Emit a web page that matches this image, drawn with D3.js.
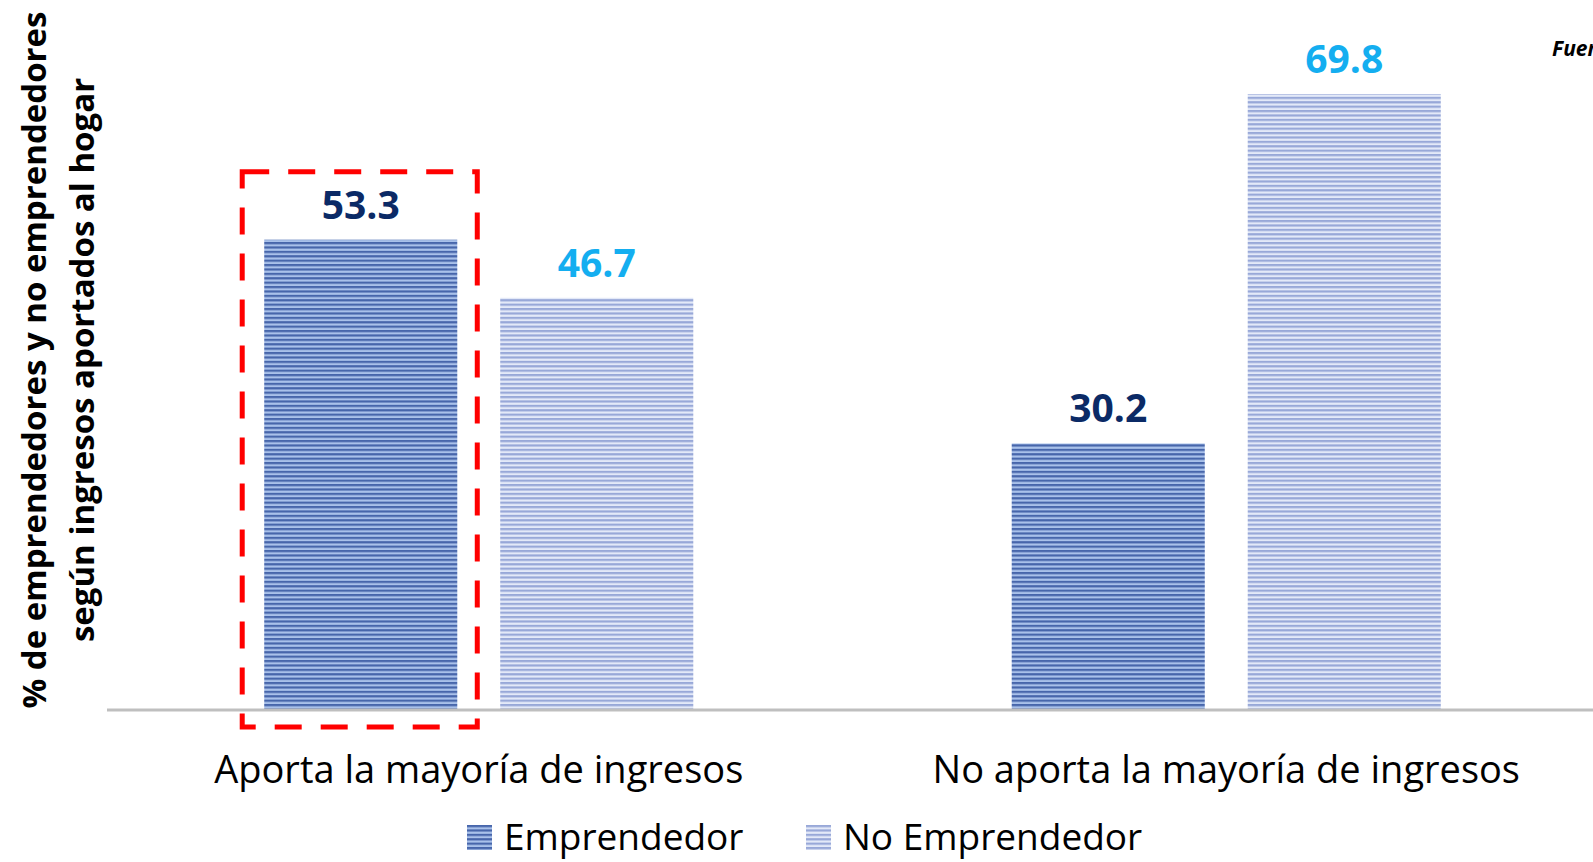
<!DOCTYPE html>
<html lang="es">
<head>
    <meta charset="UTF-8">
    <title>Emprendedores según ingresos aportados al hogar</title>
    <script src="https://d3js.org/d3.v7.min.js"></script>
    <style>
        html, body { margin: 0; padding: 0; background: #fff; overflow: hidden; }
        body { font-family: "Open Sans", Arial, sans-serif; }
    </style>
</head>
<body>
<div id="chart"></div>
<script>
    // Data
    const categories = ["Aporta la mayoría de ingresos", "No aporta la mayoría de ingresos"];
    const seriesNames = ["Emprendedor", "No Emprendedor"];
    const emprendedor = [53.3, 30.2];
    const noEmprendedor = [46.7, 69.8];
    const yLabelLines = ["% de emprendedores y no emprendedores", "según ingresos aportados al hogar"];

    const width = 1593, height = 862;
    const baseY = 710;

    const rows = categories.map((c, i) => ({
        cat: c,
        values: [
            { key: seriesNames[0], value: emprendedor[i] },
            { key: seriesNames[1], value: noEmprendedor[i] }
        ]
    }));

    const svg = d3.select("#chart").append("svg")
        .attr("width", width)
        .attr("height", height);

    // striped fills
    const defs = svg.append("defs");
    const stripes = {
        "Emprendedor": { dark: "#4766ab", light: "#a9c1ea" },
        "No Emprendedor": { dark: "#98a8d8", light: "#e3e9f8" }
    };
    seriesNames.forEach((s, i) => {
        const p = defs.append("pattern")
            .attr("id", "stripe" + i)
            .attr("patternUnits", "userSpaceOnUse")
            .attr("width", 8).attr("height", 4.4);
        p.append("rect").attr("width", 8).attr("height", 4.4).attr("fill", stripes[s].light);
        p.append("rect").attr("width", 8).attr("height", 2.2).attr("fill", stripes[s].dark);
    });

    // Scales
    const x0 = d3.scaleBand()
        .domain(categories)
        .range([105, 1600])
        .paddingInner(0.426)
        .paddingOuter(0.213);

    const x1 = d3.scaleBand()
        .domain(seriesNames)
        .range([0, x0.bandwidth()])
        .paddingInner(0.182);

    const y = d3.scaleLinear()
        .domain([0, 80])
        .range([baseY, 4]);

    const color = d3.scaleOrdinal().domain(seriesNames).range(["url(#stripe0)", "url(#stripe1)"]);
    const labelColor = d3.scaleOrdinal().domain(seriesNames).range(["#0b2a66", "#14aef0"]);

    // Bars
    const groups = svg.selectAll(".group")
        .data(rows)
        .enter().append("g")
        .attr("class", "group")
        .attr("transform", d => `translate(${x0(d.cat)},0)`);

    groups.selectAll("rect")
        .data(d => d.values)
        .enter().append("rect")
        .attr("x", d => x1(d.key))
        .attr("width", x1.bandwidth())
        .attr("y", d => y(d.value))
        .attr("height", d => y(0) - y(d.value))
        .attr("fill", d => color(d.key));

    groups.selectAll(".val")
        .data(d => d.values)
        .enter().append("text")
        .attr("class", "val")
        .attr("x", d => x1(d.key) + x1.bandwidth() / 2)
        .attr("y", d => y(d.value) - 21)
        .attr("text-anchor", "middle")
        .attr("fill", d => labelColor(d.key))
        .style("font-size", "39px")
        .style("font-weight", "bold")
        .text(d => d.value.toFixed(1));

    // Axis line
    svg.append("line")
        .attr("x1", 107).attr("x2", width)
        .attr("y1", y(0)).attr("y2", y(0))
        .attr("stroke", "#bfbfbf")
        .attr("stroke-width", 3);

    // Category labels
    svg.selectAll(".cat")
        .data(categories)
        .enter().append("text")
        .attr("class", "cat")
        .attr("x", d => x0(d) + x0.bandwidth() / 2)
        .attr("y", 783)
        .attr("text-anchor", "middle")
        .attr("fill", "#000")
        .style("font-size", "38px")
        .text(d => d);

    // Highlight box around first bar
    const hx = x0(categories[0]) + x1(seriesNames[0]);
    svg.append("rect")
        .attr("x", hx - 22)
        .attr("y", y(emprendedor[0]) - 68)
        .attr("width", x1.bandwidth() + 42)
        .attr("height", y(0) - y(emprendedor[0]) + 85)
        .attr("fill", "none")
        .attr("stroke", "#ff0000")
        .attr("stroke-width", 5)
        .attr("stroke-dasharray", "27,19");

    // Y label
    const yl = svg.append("text")
        .attr("transform", `translate(0,${(10 + baseY) / 2}) rotate(-90)`)
        .attr("text-anchor", "middle")
        .style("font-size", "33px")
        .style("font-weight", "bold")
        .attr("fill", "#000");
    yLabelLines.forEach((t, i) => {
        yl.append("tspan")
            .attr("x", 0)
            .attr("y", 46 + i * 48)
            .text(t);
    });

    // Source (cut off at the edge, as in the original)
    svg.append("text")
        .attr("x", 1552).attr("y", 56)
        .style("font-size", "21px")
        .style("font-weight", "bold")
        .style("font-style", "italic")
        .text("Fuente:");

    // Legend
    const legendX = [467, 806];
    const lg = svg.selectAll(".legend")
        .data(seriesNames)
        .enter().append("g")
        .attr("class", "legend")
        .attr("transform", (d, i) => `translate(${legendX[i]},825)`);
    lg.append("rect")
        .attr("width", 25).attr("height", 25)
        .attr("fill", d => color(d));
    lg.append("text")
        .attr("x", 37).attr("y", 25)
        .style("font-size", "37px")
        .attr("fill", "#000")
        .text(d => d);
</script>
</body>
</html>
